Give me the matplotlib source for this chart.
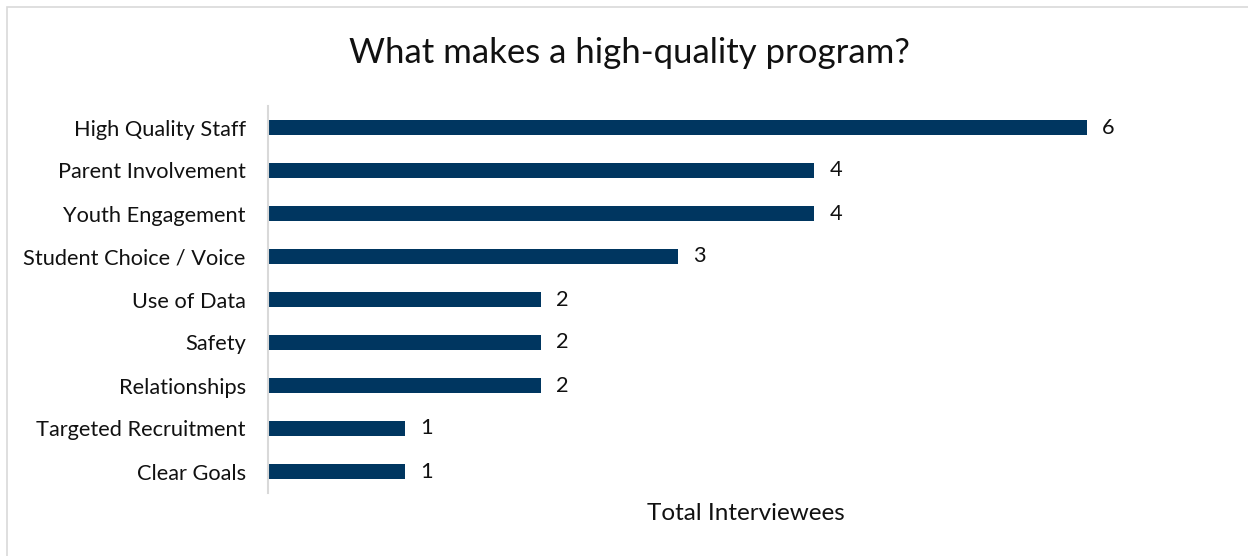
import matplotlib.pyplot as plt
from matplotlib.patches import Rectangle

# data
categories = ['High Quality Staff', 'Parent Involvement', 'Youth Engagement',
              'Student Choice / Voice', 'Use of Data', 'Safety', 'Relationships',
              'Targeted Recruitment', 'Clear Goals']
counts = [6, 4, 4, 3, 2, 2, 2, 1, 1]

plt.rcParams['font.family'] = ['Lato', 'DejaVu Sans']

W, H = 1248, 556
fig = plt.figure(figsize=(W / 100, H / 100), dpi=100)
fig.patch.set_facecolor('white')

# chart frame
fig.patches.append(Rectangle((7 / W, -0.1), 1.2, 1 - 7 / H + 0.1, transform=fig.transFigure,
                             fill=False, edgecolor='#d9d9d9', linewidth=1.2))

ax = fig.add_axes([268 / W, 1 - 493 / H, (1087 - 268) / W, 387 / H])
ypos = list(range(len(categories)))
bars = ax.barh(ypos, counts, height=0.33, color='#003660')

ax.set_xlim(0, 6)
ax.set_ylim(len(categories) - 0.5, -0.5)
ax.set_yticks(ypos)
ax.set_yticklabels(categories, fontsize=15.7, color='#111111')
ax.tick_params(axis='y', length=0, pad=16)
ax.set_xticks([])
for s in ['top', 'right', 'bottom']:
    ax.spines[s].set_visible(False)
ax.spines['left'].set_color('#d9d9d9')
ax.spines['left'].set_linewidth(1.5)

for b, v in zip(bars, counts):
    ax.annotate(str(v), (b.get_width(), b.get_y() + b.get_height() / 2),
                xytext=(11, 0), textcoords='offset points',
                ha='left', va='center', fontsize=15.7, color='#111111')

fig.text(629 / W, 1 - 53 / H, 'What makes a high-quality program?',
         ha='center', va='center', fontsize=25, color='#111111')
fig.text(746 / W, 1 - 514 / H, 'Total Interviewees',
         ha='center', va='center', fontsize=17.5, color='#111111')

fig.savefig('out.png', dpi=100)
